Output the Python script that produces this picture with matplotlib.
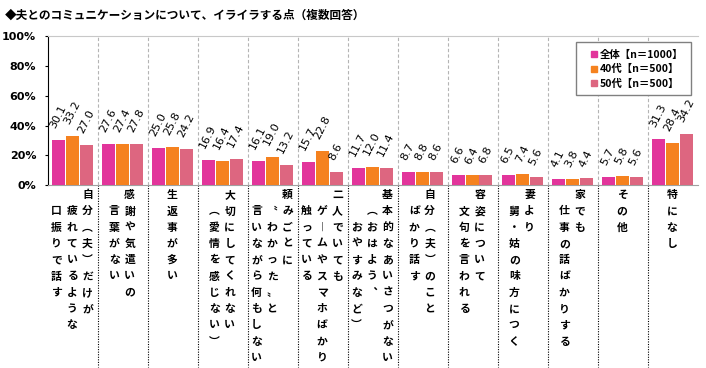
import numpy as np
import matplotlib.pyplot as plt
import matplotlib.transforms as mtransforms
from matplotlib.lines import Line2D
from matplotlib.patches import Rectangle

plt.rcParams['font.family'] = ['Noto Sans CJK JP', 'DejaVu Sans']

title = "◆夫とのコミュニケーションについて、イライラする点（複数回答）"

# vertical labels: "\n" = next column (right to left), leading "　" = indent
categories = [
    "自分（夫）だけが\n　疲れているような\n　口振りで話す",
    "感謝や気遣いの\n　言葉がない",
    "生返事が多い",
    "大切にしてくれない\n　（愛情を感じない）",
    "頼みごとに\n　“わかった”と\n　言いながら何もしない",
    "二人でいても\n　ゲームやスマホばかり\n　触っている",
    "基本的なあいさつがない\n　（おはよう、\n　　おやすみなど）",
    "自分（夫）のこと\n　ばかり話す",
    "容姿について\n　文句を言われる",
    "妻より\n　舅・姑の味方につく",
    "家でも\n　仕事の話ばかりする",
    "その他",
    "特になし",
]
series_names = ["全体【n＝1000】", "40代【n＝500】", "50代【n＝500】"]
total = [30.1, 27.6, 25.0, 16.9, 16.1, 15.7, 11.7, 8.7, 6.6, 6.5, 4.1, 5.7, 31.3]
age40 = [33.2, 27.4, 25.8, 16.4, 19.0, 22.8, 12.0, 8.8, 6.4, 7.4, 3.8, 5.8, 28.4]
age50 = [27.0, 27.8, 24.2, 17.4, 13.2, 8.6, 11.4, 8.6, 6.8, 5.6, 4.4, 5.6, 34.2]
yticks = [0, 20, 40, 60, 80, 100]

colors = ["#E2359B", "#F5821F", "#DD6680"]
vertical_forms = {"（": "︵", "）": "︶", "、": "︑", "ー": "︱", "“": "〝", "”": "〟"}

PX = 0.72  # points per pixel at dpi 100

fig = plt.figure(figsize=(7.06, 3.68), dpi=100)
ax = fig.add_axes([48 / 706, 1 - 185 / 368, 650 / 706, 148.5 / 368])

x = np.arange(len(categories))
for k, (vals, color, name) in enumerate(zip([total, age40, age50], colors, series_names)):
    bars = ax.bar(x + (k - 1) * 0.28 - 0.02, vals, width=0.26, color=color, zorder=3, label=name)
    for b, v in zip(bars, vals):
        ax.annotate(f"{v:.1f}", xy=(b.get_x() + b.get_width() / 2, v),
                    xytext=(0, 10 * PX), textcoords="offset points",
                    rotation=63, ha="center", va="bottom",
                    fontsize=8, family="DejaVu Sans", color="black", zorder=4)

ax.set_xlim(-0.5, len(categories) - 0.5)
ax.set_ylim(0, 100)

# separators
bounds = x[:-1] + 0.5
ax.vlines(bounds, 0, 100, colors="#B4B4B4", linestyles=(0, (3, 2)), lw=0.8, zorder=1)
trans = mtransforms.blended_transform_factory(ax.transData, ax.transAxes)
for b in bounds:
    ax.plot([b, b], [0, -182 / 148.5], transform=trans, clip_on=False,
            color="black", lw=0.8, ls=(0, (1, 1.3)))

# vertical category labels
col_pitch, row_pitch = 15.5, 16.3
for i, label in enumerate(categories):
    cols = label.split("\n")
    n = len(cols)
    for j, col in enumerate(cols):
        dx = ((n - 1) / 2 - j) * col_pitch - 1
        for r, ch in enumerate(col):
            if ch == "　":
                continue
            ch = vertical_forms.get(ch, ch)
            ax.annotate(ch, xy=(i, 0), xycoords="data",
                        xytext=(dx * PX, -(10 + r * row_pitch) * PX), textcoords="offset points",
                        ha="center", va="center", fontsize=7.8, fontweight="bold",
                        color="black", annotation_clip=False)

# axes styling
ax.spines["right"].set_visible(False)
ax.spines["left"].set_color("black")
ax.spines["left"].set_linewidth(0.8)
ax.spines["bottom"].set_color("#A0A0A0")
ax.spines["bottom"].set_linewidth(0.8)
ax.spines["top"].set_color("#C8C8C8")
ax.spines["top"].set_linewidth(0.8)
ax.set_xticks([])
ax.set_yticks(yticks)
ax.set_yticklabels([f"{t}%" for t in yticks], family="DejaVu Sans", fontweight="bold", fontsize=8)
ax.tick_params(axis="y", length=2.5, width=0.8, pad=6)

# legend
frame = Rectangle((528 / 650, (185 - 94.7) / 148.5), 114.7 / 650, 52.7 / 148.5,
                  transform=ax.transAxes, fill=True, facecolor="white",
                  edgecolor="#808080", lw=1.0, zorder=5)
ax.add_patch(frame)
handles = [Line2D([], [], marker="s", ls="", color=c, markersize=4.5) for c in colors]
leg = ax.legend(handles, series_names, loc="center left",
                bbox_to_anchor=((591 - 48) / 650, (185 - 69.3) / 148.5),
                frameon=False, borderpad=0, borderaxespad=0, handlelength=0.6,
                handletextpad=0.25, labelspacing=0.45,
                prop={"family": "Noto Sans CJK JP", "weight": "bold", "size": 7.5})
leg.set_zorder(6)

fig.text(5 / 706, 1 - 15 / 368, title, fontsize=8.4, fontweight="bold", va="center", ha="left")

fig.savefig("out.png", dpi=100)
